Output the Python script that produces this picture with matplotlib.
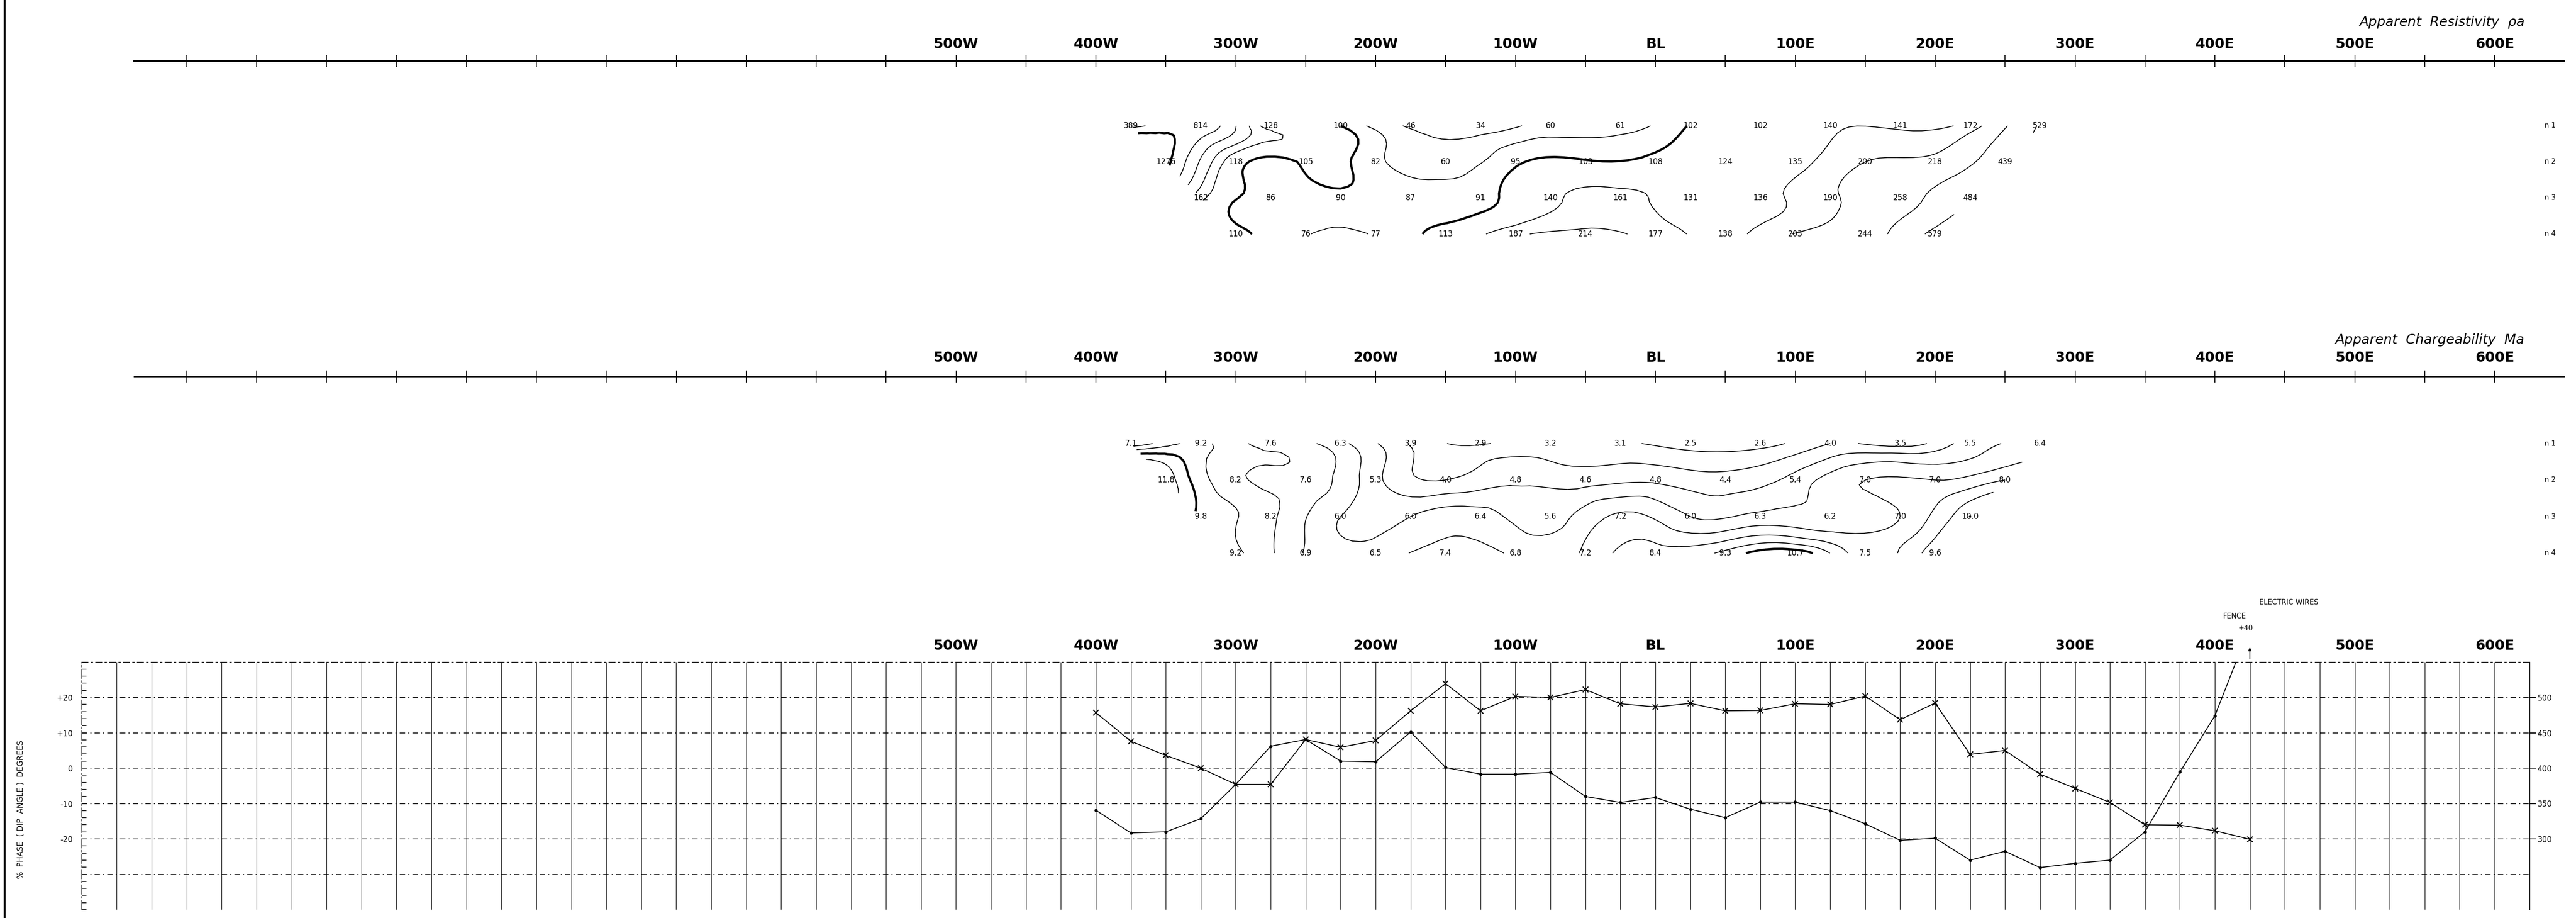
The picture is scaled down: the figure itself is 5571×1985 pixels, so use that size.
import numpy as np
import matplotlib
matplotlib.use("Agg")
import matplotlib.pyplot as plt
import matplotlib.tri as mtri
from matplotlib.lines import Line2D

# figure is laid out in pixels of the original drawing
W, H = 5571, 1985
PX_BL = 3580        # pixel column of the base line (BL)
PX_PER_FT = 3.025

# station labels along every profile axis (feet, negative = west)
stations = [-500, -400, -300, -200, -100, 0, 100, 200, 300, 400, 500, 600]
station_labels = ["500W", "400W", "300W", "200W", "100W", "BL",
                  "100E", "200E", "300E", "400E", "500E", "600E"]

# pseudosection first plotting point of each n level (feet)
row_start = [-375, -350, -325, -300]

# apparent resistivity, n = 1..4
res_n1 = [389, 814, 128, 100, 46, 34, 60, 61, 102, 102, 140, 141, 172, 529]
res_n2 = [1276, 118, 105, 82, 60, 95, 103, 108, 124, 135, 200, 218, 439]
res_n3 = [162, 86, 90, 87, 91, 140, 161, 131, 136, 190, 258, 484]
res_n4 = [110, 76, 77, 113, 187, 214, 177, 138, 203, 244, 579]
res_levels = [50, 75, 100, 150, 200, 300, 500, 1000]

# apparent chargeability, n = 1..4
chg_n1 = [7.1, 9.2, 7.6, 6.3, 3.9, 2.9, 3.2, 3.1, 2.5, 2.6, 4.0, 3.5, 5.5, 6.4]
chg_n2 = [11.8, 8.2, 7.6, 5.3, 4.0, 4.8, 4.6, 4.8, 4.4, 5.4, 7.0, 7.0, 8.0]
chg_n3 = [9.8, 8.2, 6.0, 6.0, 6.4, 5.6, 7.2, 6.0, 6.3, 6.2, 7.0, 10.0]
chg_n4 = [9.2, 6.9, 6.5, 7.4, 6.8, 7.2, 8.4, 9.3, 10.7, 7.5, 9.6]
chg_levels = [3, 4, 5, 6, 7, 8, 9, 10, 11]

# EM profile, every 25 ft from 400W to 425E
em_stations = list(range(-400, 426, 25))
in_phase = [15.7, 7.6, 3.6, 0.0, -4.6, -4.6, 8.1, 5.9, 7.8, 16.2, 23.9, 16.2,
            20.3, 20.0, 22.2, 18.2, 17.3, 18.3, 16.2, 16.3, 18.2, 18.0, 20.4,
            13.7, 18.4, 3.9, 5.0, -1.7, -5.7, -9.7, -16.0, -16.1, -17.7, -20.1]
quadrature = [-11.9, -18.3, -18.0, -14.3, -4.6, 6.2, 8.1, 2.0, 1.8, 10.2, 0.2,
              -1.7, -1.7, -1.2, -8.0, -9.7, -8.3, -11.6, -14.0, -9.6, -9.6,
              -12.0, -15.7, -20.4, -19.8, -26.0, -23.5, -28.1, -26.9, -26.0,
              -18.0, -1.1, 14.8, 40.0]


def ft_at(px):
    return (px - PX_BL) / PX_PER_FT


fig = plt.figure(figsize=(W / 100, H / 100), dpi=100)
fig.patch.set_facecolor("white")
plt.rcParams["font.family"] = ["DejaVu Sans"]

# left border of the sheet
fig.add_artist(Line2D([10 / W, 10 / W], [0, 1], color="black", lw=3))


def pseudo_section(top_px, bot_px, row1_px, gap, axis_px, label_px, title_px,
                   title, rows, levels, thick, fmt, use_log, axis_lw):
    ax = fig.add_axes([0, 1 - bot_px / H, 1, (bot_px - top_px) / H])
    n_at = lambda px: 1 + (px - row1_px) / gap
    ax.set_xlim(ft_at(0), ft_at(W))
    ax.set_ylim(n_at(bot_px), n_at(top_px))
    ax.axis("off")

    # station axis
    y_axis = n_at(axis_px)
    ax.plot([ft_at(290), ft_at(5545)], [y_axis, y_axis], color="black", lw=axis_lw)
    ticks = np.arange(-1050, 601, 50)
    ax.vlines(ticks, y_axis - 13 / gap, y_axis + 13 / gap, color="black", lw=1.3)
    for s, lab in zip(stations, station_labels):
        ax.text(s, n_at(label_px), lab, ha="center", va="center",
                fontsize=22, fontweight="bold")
    ax.text(ft_at(5460), n_at(title_px), title, ha="right", va="center",
            fontsize=21, style="italic")

    # plotted values
    xs, ns, zs = [], [], []
    for i, vals in enumerate(rows):
        for j, v in enumerate(vals):
            x = row_start[i] + 50 * j
            xs.append(x)
            ns.append(i + 1)
            zs.append(v)
            ax.text(x, i + 1, fmt(v), ha="center", va="center", fontsize=12)
        ax.text(ft_at(5515), i + 1, "n " + str(i + 1), ha="center", va="center",
                fontsize=11)

    # hand-drawn style contours through the values
    xs = np.array(xs, float)
    ns = np.array(ns, float)
    zs = np.array(zs, float)
    scale = gap / PX_PER_FT
    tri = mtri.Triangulation(xs, ns * scale)
    field = np.log10(zs) if use_log else zs
    lev = np.log10(levels) if use_log else np.array(levels, float)
    refiner = mtri.UniformTriRefiner(tri)
    tri_r, z_r = refiner.refine_field(field, subdiv=3)
    tri_n = mtri.Triangulation(tri_r.x, tri_r.y / scale, tri_r.triangles)
    widths = [3.4 if l in thick else 1.3 for l in levels]
    ax.tricontour(tri_n, z_r, levels=lev, colors="black", linewidths=widths)
    return ax


pseudo_section(0, 620, 272, 78, 132, 95, 48, "Apparent  Resistivity  \u03c1a",
               [res_n1, res_n2, res_n3, res_n4], res_levels, [100, 1000],
               lambda v: str(v), True, 2.6)
pseudo_section(620, 1290, 959, 79, 814, 773, 735, "Apparent  Chargeability  Ma",
               [chg_n1, chg_n2, chg_n3, chg_n4], chg_levels, [10],
               lambda v: f"{v:.1f}", False, 1.8)

# EM profile panel
left_px = PX_BL - 1125 * PX_PER_FT
right_px = PX_BL + 625 * PX_PER_FT
top_px, bot_px = 1431.5, 1967
ax = fig.add_axes([left_px / W, 1 - bot_px / H, (right_px - left_px) / W,
                   (bot_px - top_px) / H])
ax.set_xlim(-1125, 625)
ax.set_ylim(-40, 30)
ax.spines["top"].set_linestyle((0, (8, 4, 2, 4)))
ax.spines["left"].set_linestyle((0, (12, 3, 2, 3)))
ax.spines["bottom"].set_visible(False)
for sp in ["top", "left", "right"]:
    ax.spines[sp].set_linewidth(1.2)

for y in [-30, -20, -10, 0, 10, 20]:
    ax.axhline(y, color="black", lw=1.2, ls=(0, (7, 4, 1.5, 4)))
for x in np.arange(-1100, 601, 25):
    ax.axvline(x, color="black", lw=0.9)

ax.plot(em_stations, in_phase, color="black", lw=1.4, marker="x",
        markersize=8, mew=1.6)
ax.plot(em_stations, quadrature, color="black", lw=1.4, marker="o",
        markersize=4)

ax.set_xticks([])
ax.set_yticks([-20, -10, 0, 10, 20])
ax.set_yticklabels(["-20", "-10", "0", "+10", "+20"], fontsize=12)
ax.set_yticks(np.arange(-40, 31, 2), minor=True)
ax.tick_params(axis="y", which="both", direction="in", length=7, width=1.2, pad=14)

ax2 = ax.twinx()
ax2.set_ylim(400 + 5 * -40, 400 + 5 * 30)
ax2.set_yticks([300, 350, 400, 450, 500])
ax2.set_yticklabels(["300", "350", "400", "450", "500"], fontsize=12)
ax2.tick_params(axis="y", direction="out", length=10, width=1.4, pad=2)
for sp in ["top", "left", "bottom", "right"]:
    ax2.spines[sp].set_visible(False)

for s, lab in zip(stations, station_labels):
    ax.text(s, 34.6, lab, ha="center", va="center", fontsize=22,
            fontweight="bold", clip_on=False)

ax.annotate("", xy=(425, 34.5), xytext=(425, 30.5), annotation_clip=False,
            arrowprops=dict(arrowstyle="-|>", color="black", lw=1.3))
ax.text(422, 39.6, "+40", ha="center", va="center", fontsize=11, clip_on=False)
ax.text(414, 43.0, "FENCE", ha="center", va="center", fontsize=11, clip_on=False)
ax.text(453, 46.8, "ELECTRIC WIRES", ha="center", va="center", fontsize=11,
        clip_on=False)

fig.text(45 / W, 1 - 1750 / H, "%  PHASE  ( DIP  ANGLE )  DEGREES", rotation=90,
         ha="center", va="center", fontsize=12)

fig.savefig("out.png", dpi=100, facecolor="white")
